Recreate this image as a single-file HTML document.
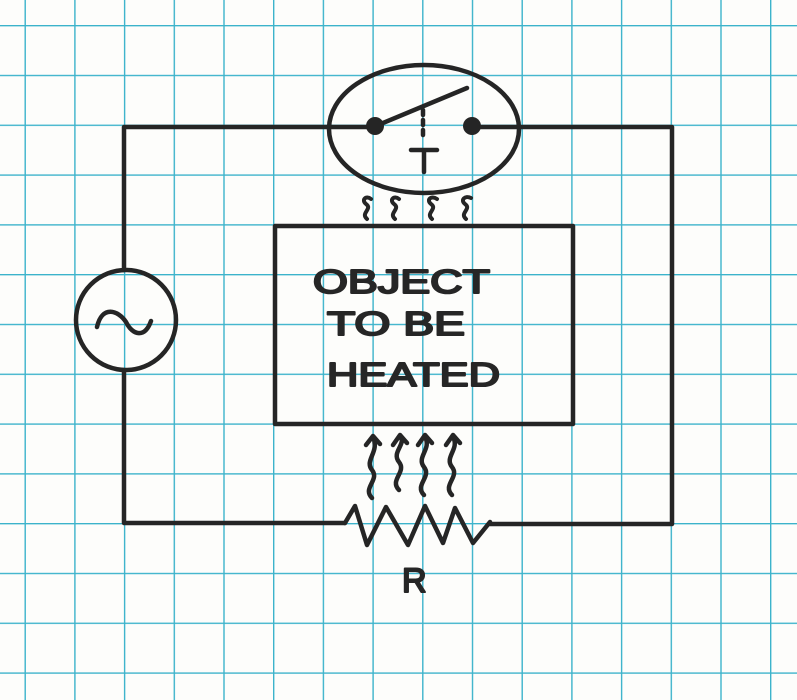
<!DOCTYPE html>
<html><head><meta charset="utf-8"><style>
html,body{margin:0;padding:0;background:#fdfdfb;}
svg{display:block}
</style></head><body>
<svg width="797" height="700" viewBox="0 0 797 700" xmlns="http://www.w3.org/2000/svg">
<defs>
<pattern id="g" x="24.5" y="25" width="49.7" height="49.8" patternUnits="userSpaceOnUse">
<path d="M0.7 0 V49.8 M0 0.7 H49.7" stroke="#3cb3cb" stroke-width="1.4" fill="none"/>
</pattern>
</defs>
<rect width="797" height="700" fill="#fdfdfb"/>
<rect width="797" height="700" fill="url(#g)"/>
<g stroke="#252525" stroke-width="4.5" fill="none" stroke-linecap="round" stroke-linejoin="round">
<path d="M375 127 H124 V270"/>
<path d="M124 372 V523 H345"/>
<path d="M472 127 H672 V524 H490"/>
<circle cx="126" cy="320" r="50"/>
<path d="M97 327 C102 305 118 310 126 322 C133 336 145 338 151 321"/>
<ellipse cx="424" cy="129" rx="95" ry="64"/>
<path d="M378 125 L467 88"/>
<path d="M423 110 V140" stroke-dasharray="5 5"/>
<path d="M411 150 H437 M424 150 V172"/>
<rect x="275" y="226" width="298" height="198"/>
<path d="M345 523 L355 506 L367 545 L386 507 L408 545 L425 506 L443 543 L455 508 L473 543 L490 522"/>
<path d="M372 498 C362 488 380 480 372 470 C364 460 380 452 373 437 M366 445 L373 436 L380 444"/>
<path d="M399 490 C389 480 407 472 399 462 C391 452 407 444 400 436 M393 445 L400 435 L407 443"/>
<path d="M424 495 C414 485 432 477 424 467 C416 457 432 449 425 437 M418 445 L425 435 L432 443"/>
<path d="M452 495 C442 485 460 477 452 467 C444 457 460 449 453 437 M446 445 L453 435 L460 443"/>
<g stroke-width="4">
<path d="M367 219 C360 213 373 209 366 204 C361 200 366 195 371 199"/>
<path d="M395 219 C388 213 401 209 394 204 C389 200 394 195 399 199"/>
<path d="M432 219 C425 213 438 209 431 204 C426 200 431 195 437 199"/>
<path d="M466 219 C459 213 472 209 465 204 C460 200 465 195 471 198"/>
</g>
</g>
<circle cx="375" cy="126" r="9" fill="#252525"/>
<circle cx="472" cy="126" r="9" fill="#252525"/>
<g font-family="Liberation Sans, sans-serif" font-size="33" fill="#262626" stroke="#262626" stroke-width="2" stroke-linejoin="round">
<text x="313" y="293" textLength="177" lengthAdjust="spacingAndGlyphs">OBJECT</text>
<text x="327" y="335" textLength="138" lengthAdjust="spacingAndGlyphs">TO BE</text>
<text x="327" y="386" textLength="173" lengthAdjust="spacingAndGlyphs">HEATED</text>
<text x="402" y="592" font-size="34">R</text>
</g>
</svg>
</body></html>
